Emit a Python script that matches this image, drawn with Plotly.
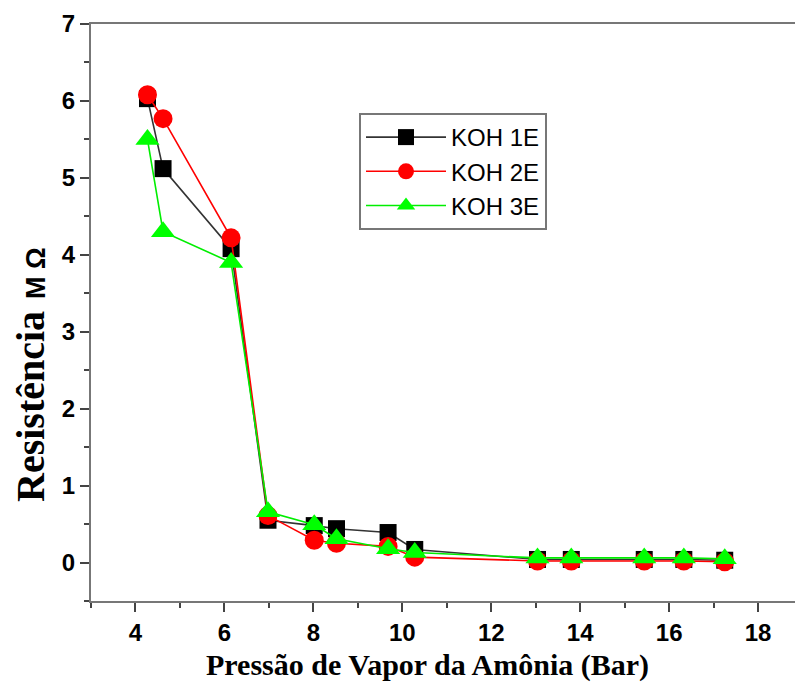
import plotly.graph_objects as go

# Ammonia vapour pressure (bar) and measured resistance (MΩ) for three KOH samples
pressure = [4.27, 4.62, 6.15, 6.98, 8.02, 8.52, 9.68, 10.28, 13.04, 13.80, 15.44, 16.33, 17.25]
koh_1e = [6.03, 5.12, 4.08, 0.55, 0.48, 0.44, 0.39, 0.17, 0.04, 0.04, 0.04, 0.04, 0.03]
koh_2e = [6.08, 5.77, 4.22, 0.61, 0.29, 0.25, 0.21, 0.07, 0.02, 0.02, 0.02, 0.02, 0.01]
koh_3e = [5.50, 4.30, 3.90, 0.66, 0.49, 0.31, 0.18, 0.13, 0.06, 0.06, 0.06, 0.06, 0.05]

series_names = ["KOH 1E", "KOH 2E", "KOH 3E"]
x_ticks = [4, 6, 8, 10, 12, 14, 16, 18]
y_ticks = [0, 1, 2, 3, 4, 5, 6, 7]

W, H = 795, 691
L, R, T, B = 91, 0, 24, 90
pw, ph = W - L - R, H - T - B

def px_x(p):
    return (p - L) / pw

def px_y(p):
    return (H - B - p) / ph

fig = go.Figure()
styles = [
    dict(line=dict(color="#333333", width=1.6), marker=dict(symbol="square", size=17, color="black")),
    dict(line=dict(color="#ff0000", width=1.6), marker=dict(symbol="circle", size=19, color="#ff0000")),
    dict(line=dict(color="#00ee00", width=1.6), marker=dict(symbol="triangle-up", size=21, color="#00ff00")),
]
for name, ys, st in zip(series_names, [koh_1e, koh_2e, koh_3e], styles):
    fig.add_trace(go.Scatter(x=pressure, y=ys, mode="lines+markers", name=name,
                             line=st["line"], marker=st["marker"]))

axis_font = dict(family="Liberation Sans, Arial", size=24, color="black")
tick_color = "#444444"

fig.update_layout(
    width=W, height=H,
    margin=dict(l=L, r=R, t=T, b=B, pad=0),
    paper_bgcolor="white", plot_bgcolor="white",
    showlegend=True,
    legend=dict(
        x=px_x(359), y=px_y(113), xanchor="left", yanchor="top",
        bordercolor="#777777", borderwidth=2, bgcolor="white",
        itemwidth=80,
        font=dict(family="Liberation Sans, Arial", size=24, color="black"),
    ),
    xaxis=dict(
        range=[3.0, 18.83], tickvals=x_ticks, ticktext=[f"<b>{v}</b>" for v in x_ticks],
        ticks="outside", ticklen=9, tickwidth=2, tickcolor=tick_color,
        showline=True, linewidth=2, linecolor="#777777", mirror=True,
        showgrid=False, zeroline=False, tickfont=axis_font,
        minor=dict(ticks="outside", ticklen=5, tickwidth=2, tickcolor=tick_color, dtick=1, showgrid=False),
    ),
    yaxis=dict(
        range=[-0.5, 7], tickvals=y_ticks, ticktext=[f"<b>{v}</b>" for v in y_ticks],
        ticks="outside", ticklen=9, tickwidth=2, tickcolor=tick_color,
        showline=True, linewidth=2, linecolor="#777777",
        showgrid=False, zeroline=False, tickfont=axis_font,
        minor=dict(ticks="outside", ticklen=5, tickwidth=2, tickcolor=tick_color, dtick=0.5, showgrid=False),
    ),
    annotations=[
        dict(text="<b>Pressão de Vapor da Amônia (Bar)</b>", xref="paper", yref="paper",
             x=px_x(427), y=px_y(665), xanchor="center", yanchor="middle", showarrow=False,
             font=dict(family="Liberation Serif, Times New Roman", size=30, color="black")),
        dict(text="<b>Resistência</b>",
             xref="paper", yref="paper", x=px_x(31), y=px_y(407), xanchor="center", yanchor="middle",
             textangle=-90, showarrow=False,
             font=dict(family="Liberation Serif, Times New Roman", size=40, color="black")),
        dict(text="<b>M Ω</b>",
             xref="paper", yref="paper", x=px_x(36), y=px_y(273), xanchor="center", yanchor="middle",
             textangle=-90, showarrow=False,
             font=dict(family="Liberation Sans, Arial", size=27, color="black")),
    ],
)

fig.write_html("out.html")
